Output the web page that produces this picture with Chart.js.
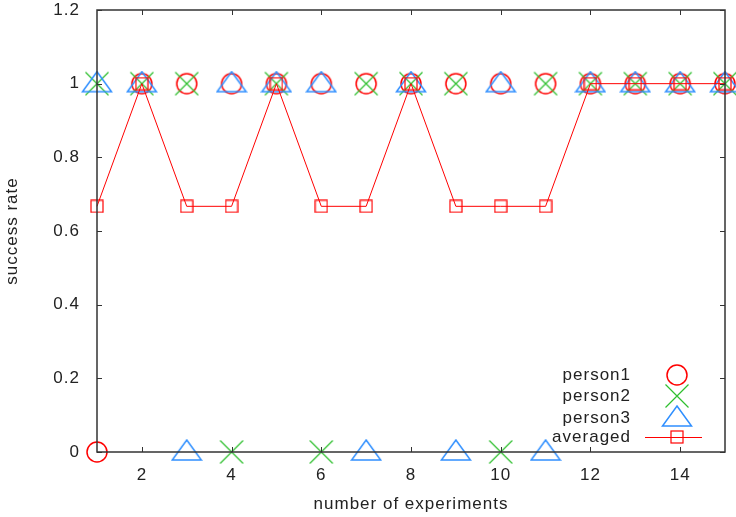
<!DOCTYPE html>
<html>
<head>
<meta charset="utf-8">
<script src="https://cdn.jsdelivr.net/npm/chart.js@4.4.0/dist/chart.umd.min.js"></script>
<style>
  html, body { margin: 0; padding: 0; background: #fff; }
  #wrap { width: 736px; height: 517px; }
</style>
</head>
<body>
<div id="wrap"><canvas id="chart" width="736" height="517"></canvas></div>
<script>
// values
const experiments = [1, 2, 3, 4, 5, 6, 7, 8, 9, 10, 11, 12, 13, 14, 15];
const person1 = [0, 1, 1, 1, 1, 1, 1, 1, 1, 1, 1, 1, 1, 1, 1];
const person2 = [1, 1, 1, 0, 1, 0, 1, 1, 1, 0, 1, 1, 1, 1, 1];
const person3 = [1, 1, 0, 1, 1, 1, 0, 1, 0, 1, 0, 1, 1, 1, 1];
const averaged = [0.667, 1, 0.667, 0.667, 1, 0.667, 0.667, 1, 0.667, 0.667, 0.667, 1, 1, 1, 1];

const xTicks = [2, 4, 6, 8, 10, 12, 14];
const yTicks = [0, 0.2, 0.4, 0.6, 0.8, 1, 1.2];
const yTickLabels = ["0", "0.2", "0.4", "0.6", "0.8", "1", "1.2"];

const RED = "#ff0000";
const GREEN = "#2fbf2f";
const BLUE = "#2f8fff";
const FONT = "'Liberation Sans', Arial, sans-serif";

function pts(ys) {
  return experiments.map((x, i) => ({ x: x, y: ys[i] }));
}

// gnuplot-like marker images
function marker(w, h, draw) {
  let c = document.createElement("canvas");
  c.width = w;
  c.height = h;
  let ctx = c.getContext("2d");
  ctx.lineWidth = 1.2;
  draw(ctx);
  return c;
}

const circleImg = marker(24, 24, ctx => {
  ctx.strokeStyle = RED;
  ctx.lineWidth = 1.5;
  ctx.beginPath();
  ctx.arc(12, 12, 10, 0, Math.PI * 2);
  ctx.stroke();
});

const crossImg = marker(26, 26, ctx => {
  ctx.strokeStyle = GREEN;
  ctx.beginPath();
  ctx.moveTo(1.5, 1.5); ctx.lineTo(24.5, 24.5);
  ctx.moveTo(24.5, 1.5); ctx.lineTo(1.5, 24.5);
  ctx.stroke();
});

const triImg = marker(32, 26, ctx => {
  ctx.strokeStyle = BLUE;
  ctx.lineWidth = 1.5;
  ctx.beginPath();
  ctx.moveTo(16, 1);
  ctx.lineTo(30.5, 21);
  ctx.lineTo(1.5, 21);
  ctx.closePath();
  ctx.stroke();
});

const squareImg = marker(14, 14, ctx => {
  ctx.strokeStyle = RED;
  ctx.strokeRect(1, 1, 12, 12);
});

// frame with inward ticks on all four sides
const framePlugin = {
  id: "frame",
  afterDatasetsDraw(chart) {
    let ctx = chart.ctx;
    let a = chart.chartArea;
    let xs = chart.scales.x, ys = chart.scales.y;
    ctx.save();
    ctx.strokeStyle = "#333";
    ctx.lineWidth = 1.5;
    ctx.strokeRect(a.left, a.top, a.right - a.left, a.bottom - a.top);
    ctx.lineWidth = 1;
    ctx.beginPath();
    xTicks.forEach(v => {
      let px = Math.round(xs.getPixelForValue(v)) + 0.5;
      ctx.moveTo(px, a.bottom); ctx.lineTo(px, a.bottom - 5);
      ctx.moveTo(px, a.top); ctx.lineTo(px, a.top + 5);
    });
    yTicks.forEach(v => {
      let py = Math.round(ys.getPixelForValue(v)) + 0.5;
      ctx.moveTo(a.left, py); ctx.lineTo(a.left + 5, py);
      ctx.moveTo(a.right, py); ctx.lineTo(a.right - 5, py);
    });
    ctx.stroke();
    ctx.restore();
  }
};

// legend at lower right: label right-aligned, sample on the right
const legendPlugin = {
  id: "gpLegend",
  afterDraw(chart) {
    let ctx = chart.ctx;
    let items = [
      { label: "person1", img: circleImg, y: 375 },
      { label: "person2", img: crossImg, y: 396 },
      { label: "person3", img: triImg, y: 418 },
      { label: "averaged", img: squareImg, y: 437, line: true }
    ];
    ctx.save();
    ctx.font = "17px " + FONT;
    ctx.letterSpacing = "1px";
    ctx.fillStyle = "#222";
    ctx.textAlign = "right";
    ctx.textBaseline = "middle";
    items.forEach(it => {
      ctx.fillText(it.label, 631, it.y);
      if (it.line) {
        ctx.strokeStyle = RED;
        ctx.lineWidth = 1;
        ctx.beginPath();
        ctx.moveTo(645, it.y + 0.5);
        ctx.lineTo(702, it.y + 0.5);
        ctx.stroke();
      }
      ctx.drawImage(it.img, 677 - it.img.width / 2, it.y - it.img.height / 2);
    });
    ctx.restore();
  }
};

const spacingPlugin = {
  id: "spacing",
  beforeInit(chart) { chart.ctx.letterSpacing = "1px"; },
  beforeDraw(chart) { chart.ctx.letterSpacing = "1px"; }
};

new Chart(document.getElementById("chart"), {
  type: "scatter",
  data: {
    datasets: [
      { label: "person1", data: pts(person1), pointStyle: circleImg, order: 4 },
      { label: "person2", data: pts(person2), pointStyle: crossImg, order: 3 },
      { label: "person3", data: pts(person3), pointStyle: triImg, order: 2 },
      {
        label: "averaged", data: pts(averaged), pointStyle: squareImg, order: 1,
        showLine: true, borderColor: RED, borderWidth: 1
      }
    ]
  },
  options: {
    responsive: false,
    animation: false,
    clip: false,
    layout: { autoPadding: false, padding: { left: 0, right: 11, top: 10, bottom: 0 } },
    plugins: {
      legend: { display: false },
      tooltip: { enabled: false }
    },
    scales: {
      x: {
        type: "linear",
        min: 1,
        max: 15,
        afterBuildTicks: s => { s.ticks = xTicks.map(v => ({ value: v })); },
        afterFit: s => { s.height = 65; s.paddingLeft = 0; s.paddingRight = 0; },
        grid: { display: false, drawTicks: false },
        border: { display: false },
        ticks: { color: "#222", padding: 13, font: { family: FONT, size: 17 } },
        title: {
          display: true, text: "number of experiments", color: "#222",
          font: { family: FONT, size: 17 }, padding: { top: 0, bottom: 2 }
        }
      },
      y: {
        type: "linear",
        min: 0,
        max: 1.2,
        afterBuildTicks: s => { s.ticks = yTicks.map(v => ({ value: v })); },
        afterFit: s => { s.width = 97; s.paddingTop = 0; s.paddingBottom = 0; },
        grid: { display: false, drawTicks: false },
        border: { display: false },
        ticks: {
          color: "#222", padding: 17, font: { family: FONT, size: 17 },
          callback: (v, i) => yTickLabels[i]
        },
        title: {
          display: true, text: "success rate", color: "#222",
          font: { family: FONT, size: 17 }, padding: { top: 2, bottom: 0 }
        }
      }
    }
  },
  plugins: [spacingPlugin, framePlugin, legendPlugin]
});
</script>
</body>
</html>
